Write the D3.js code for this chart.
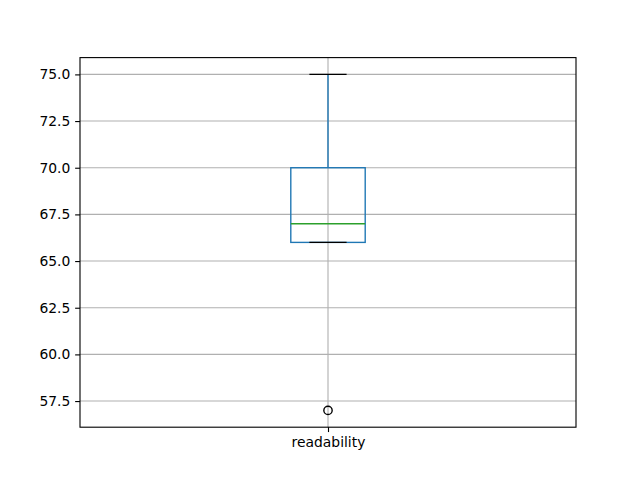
<!DOCTYPE html>
<html>
<head>
<meta charset="utf-8">
<script src="https://cdn.jsdelivr.net/npm/d3@7"></script>
<style>
  body { margin: 0; background: #fff; }
  svg { font-family: "DejaVu Sans", sans-serif; }
</style>
</head>
<body>
<svg id="svg" width="640" height="480"></svg>
<script>
// box summary
const categories = ['readability'];
const whiskerLow = [66];
const q1 = [66];
const median = [67];
const q3 = [70];
const whiskerHigh = [75];
const outliers = [[57]];
const yTicks = [57.5, 60, 62.5, 65, 67.5, 70, 72.5, 75];

const pt = 100 / 72; // matplotlib points to px at 100 dpi
const svg = d3.select('#svg');
const padding = {top: 57.6, right: 64, bottom: 52.8, left: 80};
const chartArea = {
    width: 640 - padding.left - padding.right,
    height: 480 - padding.top - padding.bottom
};

const yScale = d3.scaleLinear().domain([56.1, 75.9]).range([chartArea.height, 0]);
// positions 1..n, xlim 0.5..n+0.5 like matplotlib
const xScale = d3.scaleLinear().domain([0.5, categories.length + 0.5]).range([0, chartArea.width]);
const boxW = xScale(0.5 + 0.15) - xScale(0.5);

const g = svg.append('g').attr('transform', 'translate(' + padding.left + ',' + padding.top + ')');

// grid
g.append('g').selectAll('line').data(yTicks).enter().append('line')
    .attr('x1', 0).attr('x2', chartArea.width)
    .attr('y1', d => yScale(d)).attr('y2', d => yScale(d))
    .attr('stroke', '#b0b0b0').attr('stroke-width', 0.8 * pt);
g.append('g').selectAll('line').data(categories).enter().append('line')
    .attr('x1', (d, i) => xScale(i + 1)).attr('x2', (d, i) => xScale(i + 1))
    .attr('y1', 0).attr('y2', chartArea.height)
    .attr('stroke', '#b0b0b0').attr('stroke-width', 0.8 * pt);

// boxes
const boxes = g.selectAll('.box').data(categories).enter().append('g').attr('class', 'box');
// whiskers
boxes.append('line')
    .attr('x1', (d, i) => xScale(i + 1)).attr('x2', (d, i) => xScale(i + 1))
    .attr('y1', (d, i) => yScale(q3[i])).attr('y2', (d, i) => yScale(whiskerHigh[i]))
    .attr('stroke', '#1f77b4').attr('stroke-width', pt);
boxes.append('line')
    .attr('x1', (d, i) => xScale(i + 1)).attr('x2', (d, i) => xScale(i + 1))
    .attr('y1', (d, i) => yScale(q1[i])).attr('y2', (d, i) => yScale(whiskerLow[i]))
    .attr('stroke', '#1f77b4').attr('stroke-width', pt);
boxes.append('rect')
    .attr('x', (d, i) => xScale(i + 1) - boxW / 2)
    .attr('width', boxW)
    .attr('y', (d, i) => yScale(q3[i]))
    .attr('height', (d, i) => yScale(q1[i]) - yScale(q3[i]))
    .attr('fill', 'none').attr('stroke', '#1f77b4').attr('stroke-width', pt);
// caps
[whiskerHigh, whiskerLow].forEach(arr => {
    boxes.append('line')
        .attr('x1', (d, i) => xScale(i + 1) - boxW / 4).attr('x2', (d, i) => xScale(i + 1) + boxW / 4)
        .attr('y1', (d, i) => yScale(arr[i])).attr('y2', (d, i) => yScale(arr[i]))
        .attr('stroke', '#000').attr('stroke-width', pt);
});
boxes.append('line')
    .attr('x1', (d, i) => xScale(i + 1) - boxW / 2).attr('x2', (d, i) => xScale(i + 1) + boxW / 2)
    .attr('y1', (d, i) => yScale(median[i])).attr('y2', (d, i) => yScale(median[i]))
    .attr('stroke', '#2ca02c').attr('stroke-width', pt);
// fliers
boxes.each(function(d, i) {
    d3.select(this).selectAll('circle').data(outliers[i]).enter().append('circle')
        .attr('cx', xScale(i + 1)).attr('cy', v => yScale(v)).attr('r', 3 * pt)
        .attr('fill', 'none').attr('stroke', '#000').attr('stroke-width', pt);
});

// axes
const axisStyle = a => a.tickSizeOuter(0).tickSize(3.5 * pt).tickPadding(3.5 * pt);
const yAxis = g.append('g').call(axisStyle(d3.axisLeft(yScale).tickValues(yTicks).tickFormat(d3.format('.1f'))));
const xAxis = g.append('g').attr('transform', 'translate(0,' + chartArea.height + ')')
    .call(axisStyle(d3.axisBottom(xScale).tickValues(categories.map((d, i) => i + 1)).tickFormat((d, i) => categories[i])));
[yAxis, xAxis].forEach(a => {
    a.select('.domain').remove();
    a.selectAll('text').attr('font-size', 10 * pt).attr('fill', '#000').style('font-family', '"DejaVu Sans", sans-serif');
    a.selectAll('line').attr('stroke', '#000').attr('stroke-width', 0.8 * pt);
});

g.append('rect').attr('width', chartArea.width).attr('height', chartArea.height)
    .attr('fill', 'none').attr('stroke', '#000').attr('stroke-width', 0.8 * pt);
</script>
</body>
</html>
